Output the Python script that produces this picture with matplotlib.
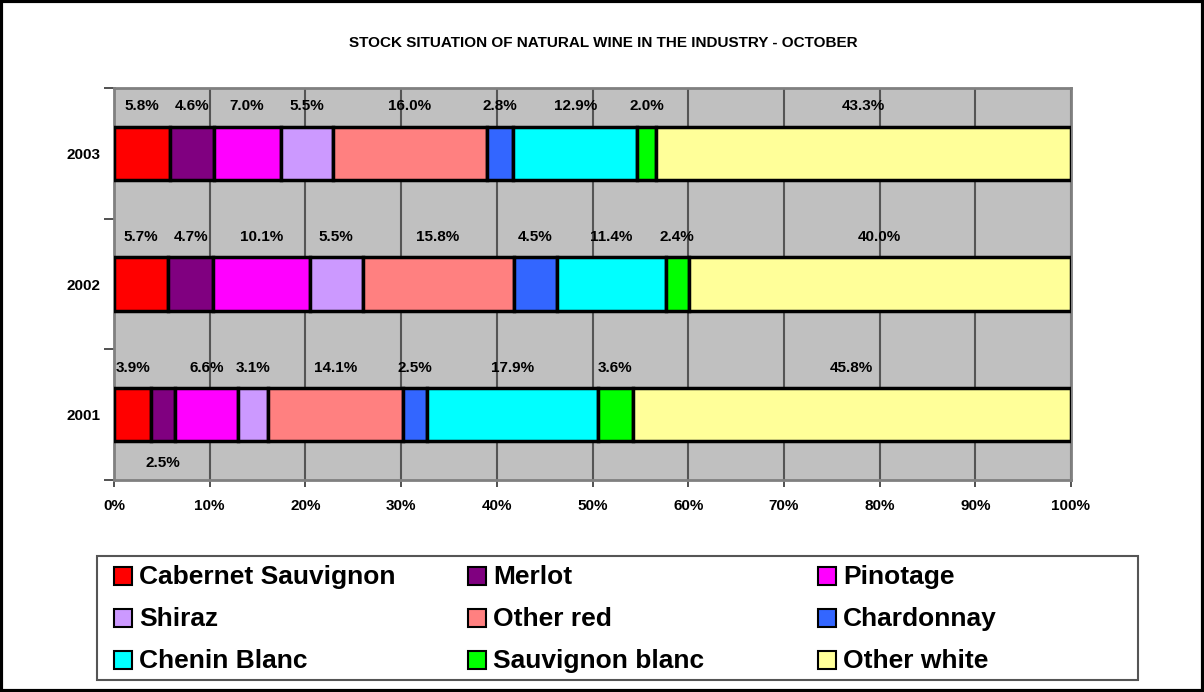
import matplotlib
matplotlib.use("Agg")
import matplotlib.pyplot as plt
from matplotlib.patches import Rectangle
import numpy as np

plt.rcParams['font.family'] = ['Liberation Sans', 'DejaVu Sans']

years = ["2001", "2002", "2003"]
series = ["Cabernet Sauvignon", "Merlot", "Pinotage", "Shiraz", "Other red",
          "Chardonnay", "Chenin Blanc", "Sauvignon blanc", "Other white"]
cabernet = [3.9, 5.7, 5.8]
merlot = [2.5, 4.7, 4.6]
pinotage = [6.6, 10.1, 7.0]
shiraz = [3.1, 5.5, 5.5]
other_red = [14.1, 15.8, 16.0]
chardonnay = [2.5, 4.5, 2.8]
chenin = [17.9, 11.4, 12.9]
sauv_blanc = [3.6, 2.4, 2.0]
other_white = [45.8, 40.0, 43.3]
values = [cabernet, merlot, pinotage, shiraz, other_red, chardonnay, chenin, sauv_blanc, other_white]
colors = ["#FF0000", "#800080", "#FF00FF", "#CC99FF", "#FF8080",
          "#3366FF", "#00FFFF", "#00FF00", "#FFFF99"]
xticks = [0, 10, 20, 30, 40, 50, 60, 70, 80, 90, 100]

W, H = 1204, 692
fig = plt.figure(figsize=(W / 100, H / 100), dpi=100)
ax = fig.add_axes([114 / W, 1 - 480 / H, 957 / W, 392 / H])
ax.set_facecolor("#C0C0C0")

ypos = np.arange(len(years))
data = np.array(values)
totals = data.sum(axis=0)
pct = data / totals * 100
left = np.zeros(len(years))
for i, s in enumerate(series):
    ax.barh(ypos, pct[i], left=left, height=0.41, color=colors[i],
            edgecolor="black", linewidth=2.5, zorder=3)
    for j in range(len(years)):
        cx = left[j] + pct[i][j] / 2
        # the small 2001 Merlot label sits below the bar
        if j == 0 and i == 1:
            ty = ypos[j] - 0.37
        else:
            ty = ypos[j] + 0.36
        ax.text(cx, ty, f"{values[i][j]:.1f}%", ha="center", va="center",
                fontsize=11, fontweight="bold", zorder=4)
    left += pct[i]

ax.set_xlim(0, 100)
ax.set_ylim(-0.5, 2.5)
ax.set_xticks(xticks)
ax.set_xticklabels([f"{t}%" for t in xticks], fontsize=11, fontweight="bold")
ax.xaxis.grid(True, color="#555555", linewidth=1.5, zorder=1)
ax.set_axisbelow(True)
ax.set_yticks(ypos)
ax.set_yticklabels(years, fontsize=11, fontweight="bold")
ax.set_yticks([-0.5, 0.5, 1.5, 2.5], minor=True)
ax.tick_params(axis="y", which="major", length=0, pad=9.5)
ax.tick_params(axis="y", which="minor", length=7, width=1.2, color="#333333")
ax.tick_params(axis="x", which="major", length=5, width=1.2, color="#333333", pad=9)
for sp in ax.spines.values():
    sp.set_color("#808080")
    sp.set_linewidth(2)

fig.text(603 / W, 1 - 43 / H, "STOCK SITUATION OF NATURAL WINE IN THE INDUSTRY - OCTOBER",
         ha="center", va="center", fontsize=11, fontweight="bold")

# legend box
fig.patches.append(Rectangle((97 / W, 1 - 680 / H), 1041 / W, 124 / H,
                             transform=fig.transFigure, facecolor="white",
                             edgecolor="#555555", linewidth=1.5))
col_x = [114, 468, 818]
row_y = [576, 618, 660]
sq = 18
for k, s in enumerate(series):
    r, c = divmod(k, 3)
    x0 = col_x[c]
    yc = row_y[r]
    fig.patches.append(Rectangle((x0 / W, 1 - (yc + sq / 2) / H), sq / W, sq / H,
                                 transform=fig.transFigure, facecolor=colors[k],
                                 edgecolor="black", linewidth=1.5))
    fig.text((x0 + sq + 7) / W, 1 - (yc + 1) / H, s, ha="left", va="center",
             fontsize=19, fontweight="bold")

# figure border
fig.patches.append(Rectangle((0.0012, 0.002), 0.9976, 0.996, transform=fig.transFigure,
                             facecolor="none", edgecolor="black", linewidth=3))

fig.savefig("out.png", dpi=100)
